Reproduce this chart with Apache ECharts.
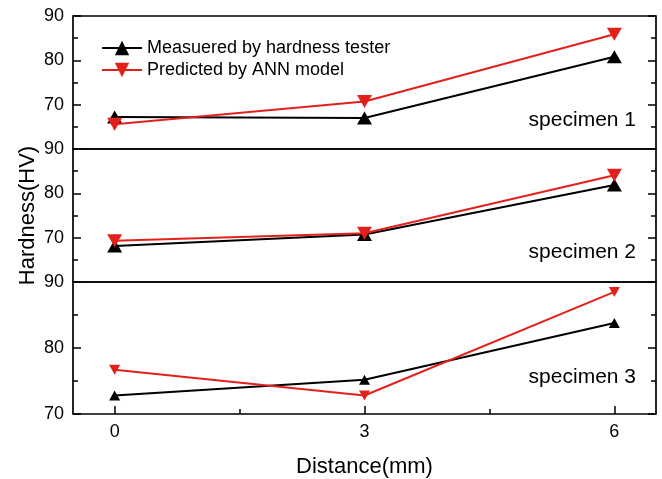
<!DOCTYPE html>
<html>
<head>
<meta charset="utf-8">
<script src="https://cdn.jsdelivr.net/npm/echarts@6/dist/echarts.min.js"></script>
<style>
  html, body { margin: 0; padding: 0; background: #fff; }
  #chart { width: 662px; height: 479px; }
</style>
</head>
<body>
<div id="chart"></div>
<script>
// Hardness along the distance from the weld, three specimens
const distance = [0, 3, 6];
const minorDistance = [1.5, 4.5];

const seriesNames = ['Measuered by hardness tester', 'Predicted by ANN model'];
const specimenLabels = ['specimen 1', 'specimen 2', 'specimen 3'];

const measured1 = [67.2, 67.0, 80.8];
const predicted1 = [65.6, 70.7, 85.9];
const measured2 = [68.1, 70.7, 81.9];
const predicted2 = [69.3, 71.0, 84.1];
const measured3 = [72.8, 75.2, 83.8];
const predicted3 = [76.7, 72.8, 88.5];

const yRanges = [[60, 90], [60, 90], [70, 90]];

const FONT = "'Liberation Sans', Arial, Helvetica, sans-serif";
const BLACK = '#000000';
const RED = '#e3211c';

const panels = [
  { measured: measured1, predicted: predicted1, size: [15, 13] },
  { measured: measured2, predicted: predicted2, size: [15, 13] },
  { measured: measured3, predicted: predicted3, size: [11, 10] }
];

const gridTops = [16, 149, 282];
const gridHeight = 133;

const grids = gridTops.map(t => ({
  left: 73, right: 6, top: t, height: gridHeight,
  show: true, borderColor: BLACK, borderWidth: 1.7, backgroundColor: 'transparent'
}));

const xAxes = gridTops.map((t, i) => ({
  gridIndex: i,
  type: 'value',
  position: 'bottom',
  min: -0.5,
  max: 6.5,
  axisLine: { show: false, onZero: false },
  splitLine: { show: false },
  axisTick: {
    show: i === 2, inside: true, length: 8,
    customValues: distance,
    lineStyle: { color: BLACK, width: 1.5 }
  },
  axisLabel: {
    show: i === 2, customValues: distance, margin: 9,
    color: BLACK, fontSize: 18, fontFamily: FONT
  },
  name: i === 2 ? 'Distance(mm)' : '',
  nameLocation: 'middle',
  nameGap: 42,
  nameMoveOverlap: false,
  nameTextStyle: { color: BLACK, fontSize: 22, fontFamily: FONT }
}));
// short ticks halfway between the labelled distances
xAxes.push({
  gridIndex: 2,
  type: 'value',
  position: 'bottom',
  min: -0.5,
  max: 6.5,
  axisLine: { show: false, onZero: false },
  splitLine: { show: false },
  axisTick: {
    show: true, inside: true, length: 5,
    customValues: minorDistance,
    lineStyle: { color: BLACK, width: 1.5 }
  },
  axisLabel: { show: false, customValues: minorDistance }
});

function yAxis(i, position) {
  const left = position === 'left';
  return {
    gridIndex: i,
    type: 'value',
    position: position,
    min: yRanges[i][0],
    max: yRanges[i][1],
    interval: 10,
    axisLine: { show: false, onZero: false },
    splitLine: { show: false },
    axisTick: { show: true, inside: true, length: 8, lineStyle: { color: BLACK, width: 1.5 } },
    minorTick: { show: true, splitNumber: 2, length: 5, lineStyle: { color: BLACK, width: 1.5 } },
    axisLabel: {
      show: left, margin: 9, color: BLACK, fontSize: 18, fontFamily: FONT,
      showMinLabel: i === 2
    },
    name: left && i === 1 ? 'Hardness(HV)' : '',
    nameLocation: 'middle',
    nameGap: 34,
    nameMoveOverlap: false,
    nameTextStyle: { color: BLACK, fontSize: 22, fontFamily: FONT }
  };
}

const yAxes = [0, 1, 2].map(i => yAxis(i, 'left'))
  .concat([0, 1, 2].map(i => yAxis(i, 'right')));

const series = [];
panels.forEach((p, i) => {
  series.push({
    name: seriesNames[0],
    type: 'line',
    xAxisIndex: i, yAxisIndex: i,
    data: distance.map((d, k) => [d, p.measured[k]]),
    symbol: 'triangle',
    symbolSize: p.size,
    lineStyle: { color: BLACK, width: 2 },
    itemStyle: { color: BLACK },
    z: 2
  });
  series.push({
    name: seriesNames[1],
    type: 'line',
    xAxisIndex: i, yAxisIndex: i,
    data: distance.map((d, k) => [d, p.predicted[k]]),
    symbol: 'triangle',
    symbolRotate: 180,
    symbolSize: p.size,
    lineStyle: { color: RED, width: 2 },
    itemStyle: { color: RED },
    z: 3
  });
});

const labelCenters = [121, 253, 378];
const graphics = specimenLabels.map((txt, i) => ({
  type: 'text',
  right: 26,
  top: labelCenters[i] - 11,
  style: { text: txt, fill: BLACK, fontSize: 21, fontFamily: FONT }
}));

const chart = echarts.init(document.getElementById('chart'), null, { renderer: 'canvas' });
chart.setOption({
  animation: false,
  backgroundColor: '#ffffff',
  grid: grids,
  xAxis: xAxes,
  yAxis: yAxes,
  legend: {
    data: seriesNames,
    orient: 'vertical',
    left: 96,
    top: 34,
    itemWidth: 40,
    itemHeight: 18,
    itemGap: 4,
    textStyle: { color: BLACK, fontSize: 18, fontFamily: FONT }
  },
  graphic: graphics,
  series: series
});
</script>
</body>
</html>
